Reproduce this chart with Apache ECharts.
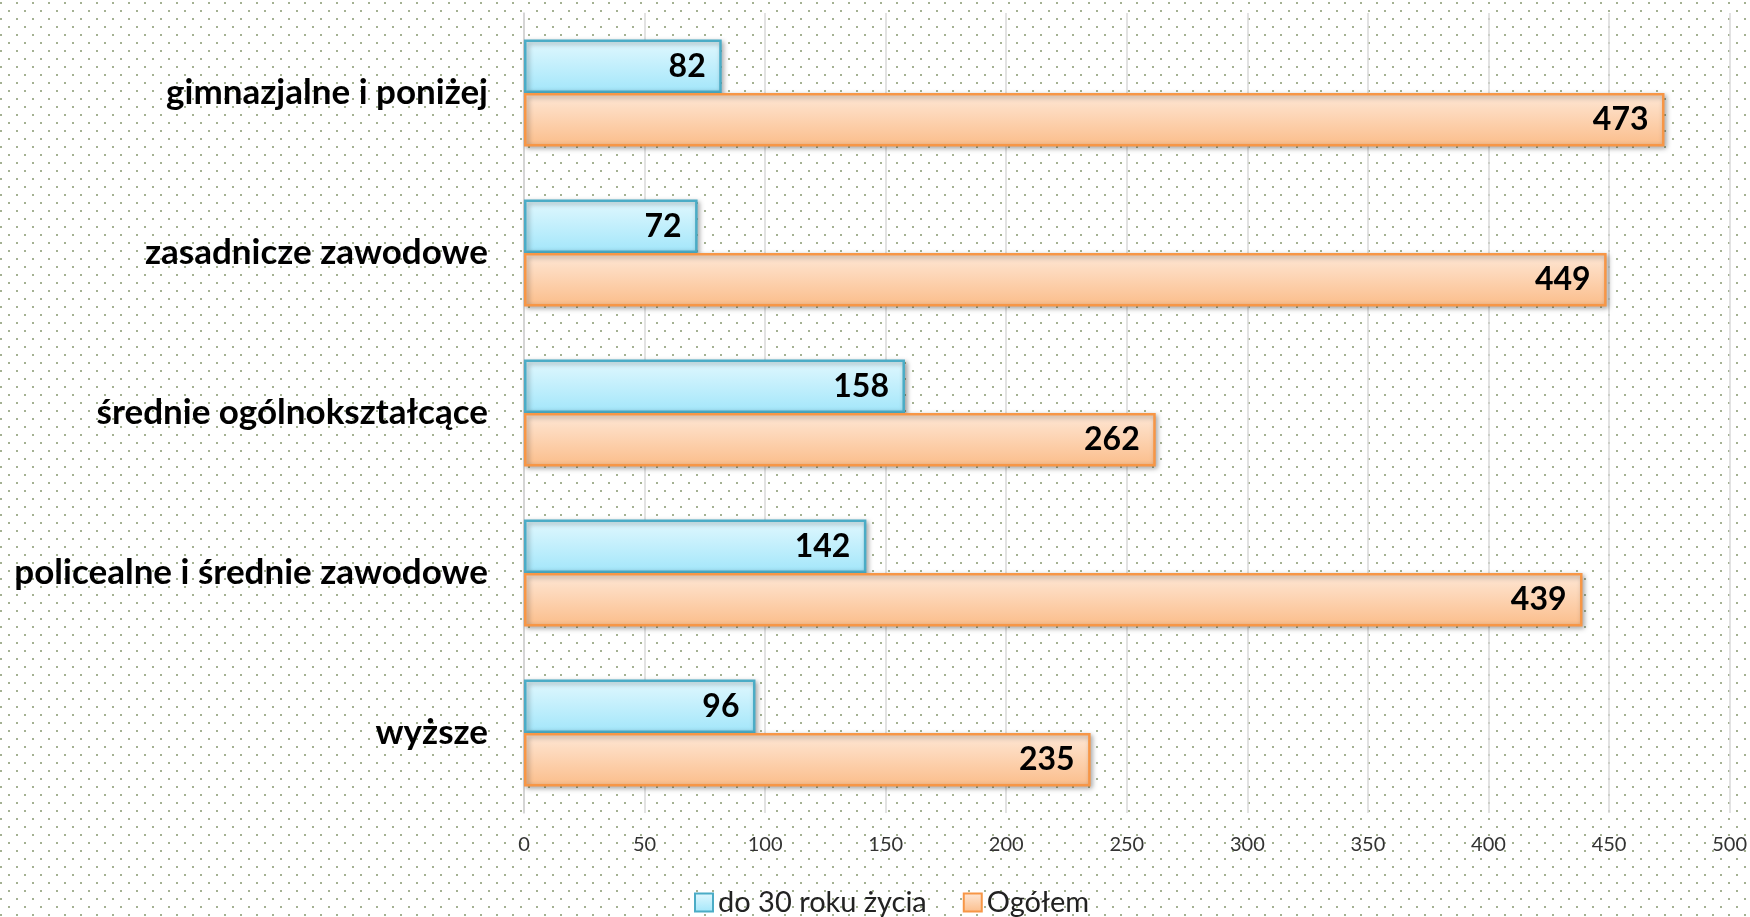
<!DOCTYPE html>
<html>
<head>
<meta charset="utf-8">
<script src="https://cdn.jsdelivr.net/npm/echarts@6/dist/echarts.min.js"></script>
<style>
html,body{margin:0;padding:0;background:#fff;}
#chart{width:1750px;height:917px;}
</style>
</head>
<body>
<div id="chart"></div>
<script>
const categories = ['gimnazjalne i poniżej', 'zasadnicze zawodowe', 'średnie ogólnokształcące', 'policealne i średnie zawodowe', 'wyższe'];
const seriesNames = ['do 30 roku życia', 'Ogółem'];
const youngValues = [82, 72, 158, 142, 96];
const totalValues = [473, 449, 262, 439, 235];
const axisMin = 0, axisMax = 500, axisStep = 50;

// dotted background
const pc = document.createElement('canvas');
pc.width = 16; pc.height = 16;
const pctx = pc.getContext('2d');
pctx.fillStyle = '#a4b192';
pctx.fillRect(0, 2, 2, 2);
pctx.fillRect(8, 10, 2, 2);
document.getElementById('chart').style.backgroundImage = 'url(' + pc.toDataURL() + ')';

const FONT = 'Lato, "Open Sans", sans-serif';
function grad(top, bottom) {
  return new echarts.graphic.LinearGradient(0, 0, 0, 1, [
    {offset: 0, color: top}, {offset: 1, color: bottom}
  ]);
}
const labelStyle = {
  show: true, position: 'insideRight', distance: 16,
  fontFamily: FONT, fontWeight: 'bold', fontSize: 32, color: '#000'
};
const chart = echarts.init(document.getElementById('chart'), null, {renderer: 'canvas'});
chart.setOption({
  backgroundColor: 'transparent',
  animation: false,
  grid: {left: 524, right: 20, top: 13, bottom: 104, containLabel: false},
  legend: {
    bottom: -5, left: 689, itemWidth: 18, itemHeight: 18, itemGap: 36,
    icon: 'rect',
    textStyle: {fontFamily: FONT, fontSize: 29, color: '#222'},
    data: seriesNames
  },
  xAxis: {
    type: 'value', min: axisMin, max: axisMax, interval: axisStep,
    axisLine: {show: false}, axisTick: {show: false},
    splitLine: {show: true, lineStyle: {color: '#d9d9d9', width: 1.5}},
    axisLabel: {fontFamily: FONT, fontSize: 20, color: '#333', margin: 22}
  },
  yAxis: {
    type: 'category', data: categories, inverse: true,
    axisLine: {show: true, lineStyle: {color: '#d0d0d0', width: 1.5}},
    axisTick: {show: false},
    axisLabel: {fontFamily: FONT, fontSize: 35, fontWeight: 'bold', color: '#000', margin: 36}
  },
  series: [
    {
      name: seriesNames[0], type: 'bar', data: youngValues,
      barGap: 0, barCategoryGap: '33%',
      itemStyle: {
        color: grad('#e2f8fe', '#a2e6fa'), borderColor: '#4bacc6', borderWidth: 2.5,
        shadowColor: 'rgba(0,0,0,0.35)', shadowBlur: 5, shadowOffsetX: 2, shadowOffsetY: 2
      },
      label: labelStyle
    },
    {
      name: seriesNames[1], type: 'bar', data: totalValues,
      barGap: 0, barCategoryGap: '33%',
      itemStyle: {
        color: grad('#fee8d7', '#fbbd8a'), borderColor: '#f79646', borderWidth: 2.5,
        shadowColor: 'rgba(0,0,0,0.35)', shadowBlur: 5, shadowOffsetX: 2, shadowOffsetY: 2
      },
      label: labelStyle
    }
  ]
});
</script>
</body>
</html>
